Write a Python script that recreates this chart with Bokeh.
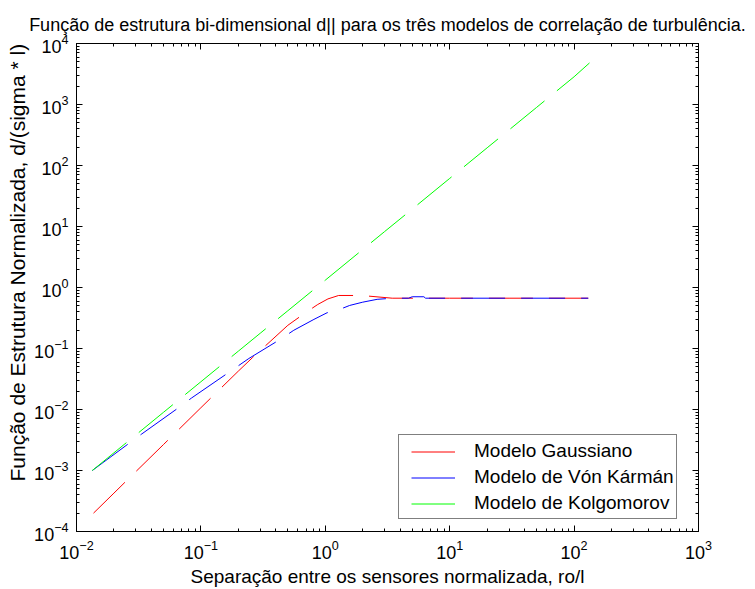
from bokeh.plotting import figure
from bokeh.models import (Legend, LegendItem, LogAxis, FixedTicker, Range1d,
                          CustomJSTickFormatter, Title)
from bokeh.embed import file_html
from bokeh.resources import INLINE

# Normalised separation ro/l and normalised structure function d/(sigma*l)
sep_gauss = [0.0137, 0.02, 0.03, 0.05, 0.1, 0.2, 0.26, 0.36, 0.5, 0.68, 0.87,
             1.05, 1.28, 1.95, 3.45, 10, 30, 130]
d_gauss = [2.0e-4, 4.26e-4, 9.6e-4, 2.66e-3, 0.0107, 0.0426, 0.071, 0.13, 0.24,
           0.376, 0.527, 0.65, 0.74, 0.74, 0.668, 0.668, 0.668, 0.668]

sep_karman = [0.0134, 0.0265, 0.0335, 0.067, 0.084, 0.17, 0.243, 0.436, 0.558,
              0.81, 1.035, 1.19, 1.57, 2.0, 2.61, 3.5, 4.67, 5.0, 6.2, 6.4, 130]
d_karman = [1.0e-3, 2.8e-3, 3.98e-3, 0.0109, 0.0154, 0.0414, 0.0686, 0.142, 0.199,
            0.30, 0.386, 0.406, 0.508, 0.575, 0.64, 0.668, 0.668, 0.705, 0.705,
            0.668, 0.668]

sep_kolmo = [0.0134, 0.02, 0.03, 0.05, 0.1, 0.2, 0.3, 0.5, 1, 2, 3, 5, 10, 20,
             30, 50, 100, 133]
d_kolmo = [1.0e-3, 1.95e-3, 3.83e-3, 8.98e-3, 0.0285, 0.0905, 0.178, 0.416, 1.32,
           4.2, 8.27, 19.3, 61.4, 195, 383, 898, 2850, 4800]

labels = ["Modelo Gaussiano", "Modelo de Vón Kármán", "Modelo de Kolgomorov"]
colors = ["#ff0000", "#0000ff", "#00ff00"]

x_exponents = list(range(-2, 4))
y_exponents = list(range(-4, 5))

FONT = "Liberation Sans"


def decade_ticks(exponents):
    major = [10.0 ** e for e in exponents]
    minor = [k * 10.0 ** e for e in exponents[:-1] for k in range(2, 10)]
    return major, minor


x_major, x_minor = decade_ticks(x_exponents)
y_major, y_minor = decade_ticks(y_exponents)

p = figure(width=755, height=589, x_axis_type="log", y_axis_type="log",
           x_range=Range1d(x_major[0], x_major[-1]),
           y_range=Range1d(y_major[0], y_major[-1]),
           output_backend="svg", toolbar_location=None,
           min_border_left=76, min_border_right=57,
           min_border_top=43, min_border_bottom=56)

p.title.text = ("Função de estrutura bi-dimensional d|| para os três modelos "
                "de correlação de turbulência.")
p.title.text_font = FONT
p.title.text_font_size = "18px"
p.title.text_font_style = "normal"
p.title.align = "center"
p.title.text_color = "black"
p.title.standoff = 18

p.grid.visible = False
p.outline_line_color = "black"
p.background_fill_color = "white"
p.border_fill_color = "white"

dash = "44 16"
r_gauss = p.line(sep_gauss, d_gauss, line_color=colors[0], line_width=1, line_dash=dash)
r_karman = p.line(sep_karman, d_karman, line_color=colors[1], line_width=1, line_dash=dash)
r_kolmo = p.line(sep_kolmo, d_kolmo, line_color=colors[2], line_width=1, line_dash=dash)

# main axes
p.xaxis.ticker = FixedTicker(ticks=x_major, minor_ticks=x_minor)
p.yaxis.ticker = FixedTicker(ticks=y_major, minor_ticks=y_minor)
p.xaxis.axis_label = "Separação entre os sensores normalizada, ro/l"

for ax in [p.xaxis[0], p.yaxis[0]]:
    ax.major_tick_in = 6
    ax.major_tick_out = 0
    ax.minor_tick_in = 3
    ax.minor_tick_out = 0
    ax.axis_line_color = "black"
    ax.major_tick_line_color = "black"
    ax.minor_tick_line_color = "black"
    ax.major_label_text_font = FONT
    ax.major_label_text_font_size = "18px"
    ax.major_label_text_color = "black"
    ax.major_label_standoff = 8
    ax.axis_label_text_font = FONT
    ax.axis_label_text_font_size = "19px"
    ax.axis_label_text_font_style = "normal"
    ax.axis_label_text_color = "black"
p.xaxis.axis_label_standoff = 4

# y label as a side title so it can sit off-centre along the axis
ytitle = Title(text="Função de Estrutura Normalizada, d/(sigma * l)",
               align="left", offset=50, standoff=6,
               text_font=FONT, text_font_size="21px", text_font_style="normal",
               text_color="black")
p.add_layout(ytitle, "left")

# tick marks on the opposite sides of the box
blank = CustomJSTickFormatter(code="return ''")
for loc, ticks, minor in [("above", x_major, x_minor), ("right", y_major, y_minor)]:
    ax = LogAxis(ticker=FixedTicker(ticks=ticks, minor_ticks=minor), formatter=blank,
                 major_tick_in=6, major_tick_out=0, minor_tick_in=3, minor_tick_out=0,
                 major_label_standoff=0, axis_line_color="black")
    p.add_layout(ax, loc)

# odd swatch height keeps each 1px swatch on a pixel centre
legend = Legend(items=[LegendItem(label=labels[0], renderers=[r_gauss]),
                       LegendItem(label=labels[1], renderers=[r_karman]),
                       LegendItem(label=labels[2], renderers=[r_kolmo])],
                location=(322, 12), margin=0,
                padding=dict(left=12, right=2, top=5, bottom=4), spacing=4,
                glyph_width=44, glyph_height=21, label_height=22,
                label_standoff=19, label_text_font=FONT,
                label_text_font_size="19px", label_text_color="black",
                border_line_color="black", border_line_width=1,
                background_fill_color="white", background_fill_alpha=1)
p.add_layout(legend, "center")

open("out.html", "w").write(file_html(p, INLINE))
